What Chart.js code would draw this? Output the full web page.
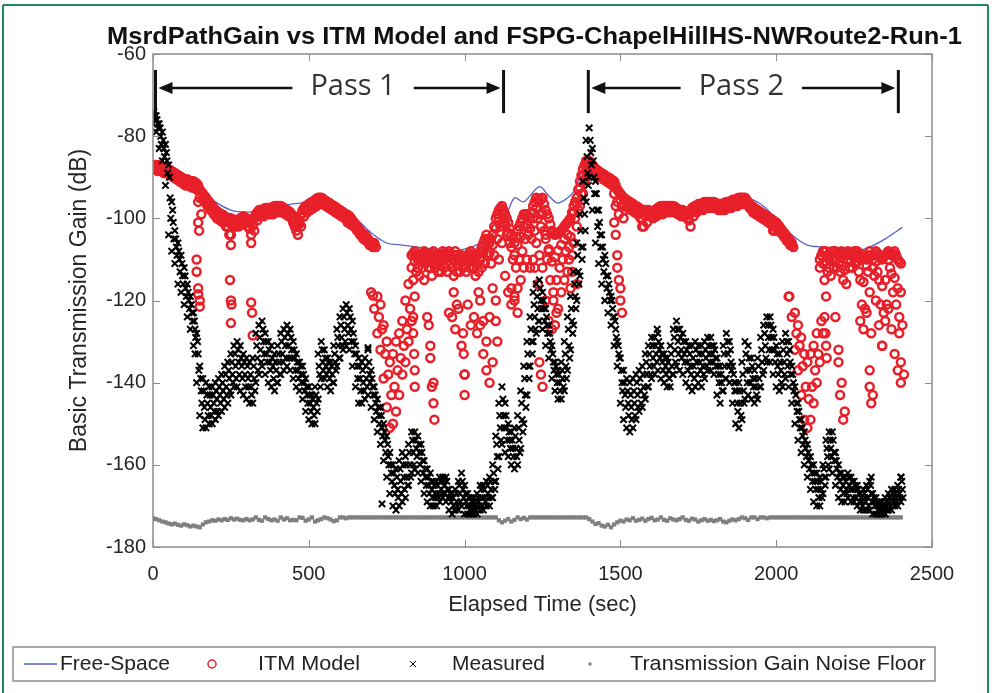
<!DOCTYPE html>
<html>
<head>
<meta charset="utf-8">
<script src="https://cdn.jsdelivr.net/npm/chart.js@4.4.0/dist/chart.umd.min.js"></script>
<style>
html, body { margin: 0; padding: 0; background: #fff; }
canvas { display: block; }
</style>
</head>
<body>
<canvas id="pathGain" width="992" height="693" style="width:992px;height:693px"></canvas>
<script>
// axis ticks
const xTicks = [0, 500, 1000, 1500, 2000, 2500];
const yTicks = [-180, -160, -140, -120, -100, -80, -60];

// free-space path gain (line)
const fsTime = [0,50,100,150,200,250,300,350,400,450,
  500,540,600,650,700,750,800,850,900,950,
  1000,1050,1100,1130,1160,1190,1240,1270,1300,1350,
  1390,1420,1460,1500,1550,1600,1650,1700,1750,1800,
  1850,1900,1950,2000,2050,2100,2150,2200,2250,2300,
  2350,2405];
const fsGain = [-87,-88,-90,-93,-96,-98,-98.5,-98,-97,-96.5,
  -96,-95,-97.5,-100,-103.5,-106,-106.5,-107,-107.5,-108,
  -107.5,-106,-103,-100,-95,-96,-92.3,-94.5,-96.3,-93.5,
  -86,-87,-89.5,-93,-97,-99,-99,-98,-97,-96.5,
  -96.5,-95,-96.5,-100,-104,-106.5,-107,-107.5,-108,-107,
  -105,-102.2];

// samples every 10 s, starting at 0 s
const sampleStep = 10;

// ITM model readings per sample (null = none)
const itmTop = [
  -87,-87,-87,-87.5,-88,-88,-88.5,-89,-89.5,-90,
  -90.5,-90.5,-91,-91,-91.5,-93,-94,-95,-96,-97,
  -98,-98.5,-99,-99.5,-100,-100,-100.5,-100.5,-100,-99.5,
  -100,-101,-100.5,-99,-98,-98,-97.5,-97.5,-97.5,-97,
  -97,-97,-97.5,-98,-98.5,-100,-102,-100.5,-98,-97,
  -96.5,-96,-95.5,-95,-95,-95.5,-96,-96.5,-97,-97.5,
  -98,-98.5,-99,-99.5,-100.5,-101.5,-102.5,-103.5,-104,-105,
  -106,-106,-119,-121,-126,-130,-135,-133,-130,-128,
  -125,-120,-116,-109,-108,-110,-109,-108,-109,-110,
  -108,-109,-110,-108,-109,-108,-110,-108,-110,-109,
  -110,-109,-108,-110,-109,-108,-106,-104,-106,-104,
  -100,-98,-97,-99,-101,-104,-106,-103,-101,-99,
  -99,-100,-97,-95,-96,-95,-98,-100,-103,-104,
  -103.5,-103,-102,-101,-100,-97,-95,-91,-88,-86,
  -86,-87,-88,-88.5,-89,-89.5,-90,-90.5,-91,-93,
  -94,-95,-95.5,-96,-96.5,-97,-97.5,-98,-98,-98,
  -98.5,-98,-97.5,-97,-97,-97,-97,-97,-97.5,-98,
  -98,-98.5,-99,-97.5,-97,-96.5,-96.5,-96,-96,-96,
  -96,-96.5,-96.5,-96.5,-96,-96,-95.5,-95.5,-95,-95,
  -95,-96,-97,-97.5,-98,-98.5,-99,-99.5,-100,-100.5,
  -101,-102,-103,-104,-105,-106,-123,-126,-129,-133,
  -135,-133,-131,-128,-110,-108,-108,-110,-108,-108,
  -109,-108,-109,-108,-109,-108,-108,-110,-109,-110,
  -108,-110,-108,-109,-110,-109,-108,-109,-108,-110,
  -111];
// readings 5 s after each sample along the top of the track
const itmTopHalf = [
  -87,-87,-87.3,-87.7,-88,-88.3,-88.7,-89.2,-89.7,-90.2,
  -90.5,-90.8,-91,-91.2,-92,-93.5,-94.5,-95.5,-96.5,-97.5,
  -98.2,-98.8,-99.2,-99.8,-100,-100.2,-100.5,-100.3,-99.8,-99.8,
  -100.5,-100.8,-99.8,-98.5,-98,-97.8,-97.5,-97.5,-97.2,-97,
  -97,-97.2,-97.8,-98.2,-99,-101,-101.5,-99,-97.5,-96.8,
  -96.2,-95.8,-95.2,-95,-95.2,-95.8,-96.2,-96.8,-97.2,-97.8,
  -98.2,-98.8,-99.2,-100,-101,-102,-103,-103.8,-104.5,-105.5,
  -106,null,null,null,null,null,null,null,null,null,
  null,null,null,-108.5,-109,-109.5,-108.5,-108.5,-109.5,-109,
  -108.5,-109.5,-109,-108.5,-108.5,-109,-109,-109,-109.5,-109.5,
  -109.5,-108.5,-109,-109.5,-108.5,-107,-105,-105,-105,-102,
  -99,-97.5,-98,-100,-102.5,-105,-104.5,-102,-100,-99,
  -99.5,-98.5,-96,-95.5,-95.5,-96.5,-99,-101.5,-103.5,-103.8,
  -103.2,-102.5,-101.5,-100.5,-98.5,-96,-93,-89.5,-87,-86,
  -86.5,-87.5,-88.2,-88.8,-89.2,-89.8,-90.2,-90.8,-92,-93.5,
  -94.5,-95.2,-95.8,-96.2,-96.8,-97.2,-97.8,-98,-98,-98.2,
  -98.2,-97.8,-97.2,-97,-97,-97,-97,-97.2,-97.8,-98,
  -98.2,-98.8,-98.2,-97.2,-96.8,-96.5,-96.2,-96,-96,-96,
  -96.2,-96.5,-96.5,-96.2,-96,-95.8,-95.5,-95.2,-95,-95,
  -95.5,-96.5,-97.2,-97.8,-98.2,-98.8,-99.2,-99.8,-100.2,-100.8,
  -101.5,-102.5,-103.5,-104.5,-105.5,null,null,null,null,null,
  null,null,null,null,-109,-108,-109,-109,-108,-108.5,
  -108.5,-108.5,-108.5,-108.5,-108.5,-108,-109,-109.5,-109.5,-109,
  -109,-109,-108.5,-109.5,-109.5,-108.5,-108.5,-108.5,-109,-110.5,
  null];
const itmInner = [
  -87.5,-88,-88,-88.3,-88.5,-88.8,-89.3,-89.8,-90.3,-90.8,
  -91.3,-91.3,-91.8,-91.8,-93,-95,-95,-96,-97,-98,
  -99,-99.5,-100,-100.8,-102,-101,-101.3,-101.3,-100.8,-100.3,
  -101,-102.5,-101.8,-99.8,-98.8,-98.8,-98.3,-98.3,-98.3,-97.8,
  -97.8,-97.8,-98.3,-98.8,-99.3,-101,-103,-101.3,-98.8,-97.8,
  -97.3,-96.8,-96.3,-95.8,-95.8,-96.3,-96.8,-97.3,-97.8,-98.3,
  -98.8,-99.3,-100,-100.5,-101.3,-102.3,-103.3,-104.3,-104.8,-105.8,
  -106.5,-106.5,null,null,null,null,null,null,null,null,
  null,null,null,-112,-110.5,-112,-110.5,-109.5,-110.5,-112,
  -110,-111,-111.5,-110,-111,-109.5,-112,-110.5,-111.5,-110.5,
  -111.5,-110.5,-110,-112,-111,-110,-108.5,-106.5,-108.5,-106.5,
  -102.5,-100,-99,-101.5,-103.5,-107,-109,-106.5,-104.5,-102,
  -101.5,-102.5,-100,-97.5,-99,-99,-104,-107.5,-110.5,-109.5,
  -107.8,-106.5,-105,-104,-104.5,-98.5,-96.5,-92.5,-89.5,-87,
  -87,-88,-89,-89.3,-89.8,-90.3,-90.8,-91.3,-94,-96,
  -95.5,-96.5,-96.5,-97,-97.5,-98,-98.8,-100,-99.5,-98.8,
  -99.3,-98.8,-98.3,-98,-97.8,-97.8,-97.8,-97.8,-98.3,-98.8,
  -98.8,-99.3,-100.5,-98.5,-97.8,-97.3,-97.3,-96.8,-96.8,-96.8,
  -96.8,-97.3,-97.3,-97.3,-96.8,-96.8,-96.3,-96.3,-95.8,-95.8,
  -95.8,-96.8,-97.8,-98.3,-98.8,-99.3,-99.8,-100.3,-100.8,-101.8,
  -102,-102.8,-103.8,-104.8,-105.8,-106.5,null,null,null,null,
  null,null,null,null,-112,-111,-110.5,-112,-110,-110,
  -111,-111.5,-112.5,-110,-110.5,-109.5,-110.5,-115,-115.5,-111.5,
  -118,-112,-110.5,-115,-116.5,-115,-110,-113.5,-114.5,-117,
  -118];
const itmMid = [
  -88,-88.5,-88.5,-89,-89,-89.5,-90,-90.5,-91,-91.5,
  -92,-92,-92.5,-92.5,-96,-99,-96,-97,-98,-99,
  -100,-100.5,-101,-102,-104,-102,-102,-102,-101.5,-101,
  -102,-104,-103,-100.5,-99.5,-99.5,-99,-99,-99,-98.5,
  -98.5,-98.5,-99,-99.5,-100,-102,-104,-102,-99.5,-98.5,
  -98,-97.5,-97,-96.5,-96.5,-97,-97.5,-98,-98.5,-99,
  -99.5,-100,-101,-101.5,-102,-103,-104,-105,-105.5,-106.5,
  -107,-107,-124,-127,-133,-138,-143,-141,-137,-134,
  -131,-127,-122,-115,-113,-114,-112,-111,-112,-114,
  -112,-113,-113,-112,-113,-111,-114,-113,-113,-112,
  -113,-112,-112,-114,-113,-112,-111,-109,-111,-109,
  -105,-102,-101,-104,-106,-110,-112,-110,-108,-105,
  -104,-105,-103,-100,-102,-103,-110,-115,-118,-115,
  -112,-110,-108,-107,-109,-100,-98,-94,-91,-88,
  -88,-89,-90,-90,-90.5,-91,-91.5,-92,-97,-99,
  -97,-98,-97.5,-98,-98.5,-99,-100,-102,-101,-99.5,
  -100,-99.5,-99,-99,-98.5,-98.5,-98.5,-98.5,-99,-99.5,
  -99.5,-100,-102,-99.5,-98.5,-98,-98,-97.5,-97.5,-97.5,
  -97.5,-98,-98,-98,-97.5,-97.5,-97,-97,-96.5,-96.5,
  -96.5,-97.5,-98.5,-99,-99.5,-100,-100.5,-101,-101.5,-103,
  -103,-103.5,-104.5,-105.5,-106.5,-107,-128,-131,-136,-141,
  -144,-141,-137,-133,-125,-115,-113,-114,-112,-112,
  -113,-115,-116,-112,-112,-111,-113,-121,-122,-113,
  -128,-114,-113,-121,-123,-121,-112,-118,-121,-124,
  -126];
const itmLow = [
  null,null,null,null,null,null,null,null,null,null,
  null,null,null,null,null,null,null,null,null,null,
  null,null,null,null,null,null,null,null,null,null,
  null,null,null,null,null,null,null,null,null,null,
  null,null,null,null,null,null,null,null,null,null,
  null,null,null,null,null,null,null,null,null,null,
  null,null,null,null,null,null,null,null,null,null,
  -118,-122,-128,-132,-139,-146,-151,-150,-147,-143,
  -138,-135,-130,-125,-119,null,null,-115,-124,-131,
  -140,null,null,null,null,-123,-124,-127,-122,-131,
  -138,-121,-126,-124,-128,-120,-125,-130,-124,-135,
  -120,-110,-106,-114,-118,-121,-119,-117,-115,-112,
  -110,-112,-110,-106,-109,-112,-120,-125,-127,-126,
  -122,-118,-115,-113,-117,-106,-102,-97,-94,-90,
  null,null,null,null,null,null,null,null,-101,-112,
  -117,-100,null,null,null,null,null,null,null,null,
  null,null,null,null,null,null,null,null,null,null,
  null,null,null,null,null,null,null,null,null,null,
  null,null,null,null,null,null,null,null,null,null,
  null,null,null,null,null,null,null,null,null,null,
  null,null,null,null,-119,-124,-132,-137,-143,-149,
  -151,-149,-145,-140,-135,-128,-119,null,null,-124,
  -132,-140,-147,null,null,null,null,-125,-127,-123,
  -137,-143,-120,-126,-131,-125,-122,-127,-133,-137,
  -140];
// ITM readings that drop away from the main track [time, gain]
const itmDrops = [
  [140,-110],[140,-113],[145,-117],[145,-118.5],[150,-120],[150,-121.5],[145,-101],[148,-103],
  [245,-101],[250,-104],[250,-106.5],[247,-115],[250,-120],[252,-121],[250,-125.5],
  [310,-102.5],[315,-106],[315,-120.5],[318,-123],[320,-128.5],[706,-118.8],
  [835,-124],[835,-128],[838,-133],[840,-137],[840,-141],
  [885,-126],[890,-134],[895,-141],[900,-145],[903,-149],
  [965,-118],[975,-121],[995,-128],[997,-133],[1000,-138],[1000,-143],
  [1045,-118],[1050,-126],[1060,-133],[1070,-137],[1080,-140],[1090,-117],[1100,-125],[1105,-130],
  [1150,-117],[1160,-120],[1170,-123],
  [1225,-112],[1235,-116],[1240,-135],[1245,-138],[1250,-141],
  [1260,-105],[1270,-108],[1285,-120],[1295,-123],[1335,-110],[1345,-113],[1360,-116],
  [1485,-104],[1490,-109],[1495,-115],[1500,-120],[1505,-123],[1570,-102],[1990,-103],
  [2042,-119],[2155,-124],[2158,-128],[2160,-131],[2162,-134],[2200,-135],[2205,-143],[2215,-149],
  [2300,-141],[2305,-145],[2340,-131],[2395,-128],[2400,-135],[2410,-138]
];

// measured path gain: five readings across the cloud per sample, top to bottom
const measHigh = [
  -74,-75,-77,-79,-82,-87,-96,-103,-106,-109,
  -112,-116,-119,-123,-128,-136,-139,-140,-141,-141,
  -140,-139,-138,-136,-135,-133,-131,-130,-131,-133,
  -134,-135,-134,-128,-126,-125,-128,-130,-131,-133,
  -131,-128,-127,-126,-127,-130,-133,-135,-136,-139,
  -141,-143,-141,-133,-130,-132,-134,-135,-131,-127,
  -124,-122,-121,-122,-125,-131,-134,-135,-134,-132,
  -137,-141,-144,-146,-150,-153,-157,-160,-161,-159,
  -157,-158,-155,-152,-152,-153,-155,-159,-161,-162,
  -164,-164,-163,-163,-163,-166,-167,-166,-164,-162,
  -165,-167,-168,-168,-167,-165,-165,-164,-163,-160,
  -153,-145,-141,-145,-150,-152,-151,-148,-142,-136,
  -130,-124,-118,-116,-115,-118,-122,-126,-131,-135,
  -137,-135,-130,-124,-119,-113,-106,-99,-91,-81,
  -78,-83,-91,-98,-104,-109,-114,-119,-124,-130,
  -134,-137,-139,-140,-139,-138,-137,-136,-133,-131,
  -129,-129,-128,-131,-133,-134,-131,-127,-125,-127,
  -128,-130,-131,-131,-130,-131,-131,-130,-129,-129,
  -131,-134,-136,-131,-128,-130,-136,-140,-140,-135,
  -130,-131,-134,-137,-134,-129,-126,-124,-124,-127,
  -131,-133,-130,-128,-130,-136,-141,-145,-149,-152,
  -155,-158,-160,-162,-163,-160,-154,-152,-152,-157,
  -160,-162,-163,-162,-163,-164,-165,-167,-166,-165,
  -164,-167,-168,-169,-169,-168,-167,-166,-166,-165,
  -163];
const measUpper = [
  -74,-76,-78,-81,-84,-90,-98,-105,-108,-111,
  -114,-118,-121,-125,-130,-139,-142,-143,-143,-143,
  -142,-141,-140,-138,-137,-135,-133,-132,-134,-135,
  -136,-138,-136,-131,-129,-127,-130,-132,-134,-135,
  -133,-130,-129,-128,-129,-132,-135,-136,-138,-141,
  -143,-144,-143,-136,-132,-134,-135,-136,-133,-129,
  -126,-124,-123,-124,-128,-133,-136,-137,-136,-135,
  -139,-143,-146,-148,-152,-155,-160,-162,-163,-161,
  -160,-160,-157,-154,-154,-155,-157,-161,-163,-164,
  -165,-165,-164,-164,-164,-167,-168,-167,-165,-164,
  -167,-168,-169,-169,-168,-166,-166,-165,-164,-162,
  -155,-148,-144,-148,-152,-154,-153,-151,-145,-139,
  -133,-127,-121,-119,-117,-120,-124,-128,-133,-136,
  -138,-137,-133,-127,-122,-116,-109,-103,-95,-85,
  -81,-86,-94,-101,-107,-111,-116,-120,-125,-131,
  -137,-140,-142,-143,-142,-140,-139,-138,-135,-133,
  -131,-131,-130,-133,-134,-135,-133,-129,-127,-129,
  -130,-132,-133,-134,-132,-133,-133,-132,-131,-131,
  -132,-136,-138,-133,-130,-132,-138,-142,-142,-138,
  -133,-134,-136,-139,-136,-132,-128,-126,-126,-129,
  -133,-135,-132,-130,-132,-138,-143,-147,-151,-154,
  -157,-160,-162,-164,-164,-161,-156,-154,-154,-159,
  -162,-163,-164,-163,-164,-165,-166,-168,-167,-166,
  -165,-168,-169,-169,-170,-169,-168,-167,-167,-166,
  -164];
const measMid = [
  -75,-77,-80,-83,-86,-95,-101,-107,-110,-114,
  -117,-120,-123,-127,-133,-142,-146,-145,-146,-145,
  -144,-143,-142,-141,-139,-138,-136,-135,-136,-138,
  -139,-141,-139,-134,-132,-130,-133,-135,-136,-137,
  -135,-133,-131,-131,-132,-134,-137,-138,-140,-143,
  -145,-146,-145,-138,-135,-136,-137,-138,-135,-131,
  -129,-127,-126,-127,-130,-136,-139,-140,-139,-138,
  -141,-145,-148,-151,-154,-158,-162,-165,-166,-164,
  -163,-163,-160,-157,-156,-157,-159,-163,-165,-166,
  -167,-167,-166,-165,-166,-168,-170,-169,-167,-166,
  -169,-170,-170,-170,-169,-168,-168,-167,-166,-164,
  -158,-151,-148,-151,-154,-156,-156,-154,-149,-143,
  -136,-130,-124,-122,-120,-122,-126,-130,-135,-138,
  -140,-139,-136,-131,-125,-119,-113,-107,-99,-89,
  -84,-90,-98,-104,-110,-114,-118,-122,-127,-133,
  -140,-143,-145,-146,-145,-143,-142,-141,-138,-136,
  -134,-133,-132,-135,-136,-137,-136,-132,-130,-132,
  -133,-135,-136,-136,-135,-135,-136,-134,-133,-133,
  -134,-138,-140,-136,-133,-135,-140,-145,-145,-142,
  -137,-137,-139,-141,-139,-135,-131,-129,-129,-132,
  -136,-137,-135,-133,-135,-140,-145,-149,-153,-156,
  -159,-162,-164,-166,-166,-163,-158,-156,-157,-161,
  -164,-165,-166,-165,-166,-166,-167,-169,-168,-168,
  -167,-169,-170,-170,-170,-170,-169,-168,-168,-167,
  -166];
const measLower = [
  -76,-78,-82,-85,-89,-100,-105,-109,-113,-116,
  -119,-122,-125,-129,-137,-145,-149,-148,-148,-147,
  -147,-145,-144,-143,-142,-140,-139,-138,-139,-141,
  -141,-143,-142,-137,-135,-133,-135,-137,-139,-140,
  -138,-135,-134,-134,-134,-137,-139,-140,-142,-145,
  -147,-148,-147,-141,-137,-138,-139,-140,-137,-134,
  -131,-130,-128,-130,-133,-139,-142,-142,-141,-140,
  -143,-147,-150,-153,-157,-160,-164,-167,-168,-167,
  -166,-165,-163,-160,-158,-160,-162,-165,-167,-168,
  -168,-168,-167,-167,-168,-169,-171,-170,-169,-168,
  -170,-171,-171,-171,-170,-170,-169,-168,-168,-166,
  -161,-154,-151,-154,-156,-158,-158,-157,-152,-146,
  -139,-133,-127,-125,-122,-125,-128,-132,-137,-140,
  -142,-141,-139,-134,-128,-122,-116,-110,-103,-92,
  -87,-94,-102,-107,-113,-117,-120,-124,-129,-134,
  -142,-146,-148,-149,-148,-146,-145,-143,-141,-138,
  -136,-135,-134,-137,-138,-139,-138,-135,-133,-134,
  -135,-137,-138,-139,-138,-137,-138,-136,-135,-135,
  -136,-140,-142,-139,-136,-137,-142,-147,-148,-145,
  -140,-140,-141,-143,-141,-138,-134,-132,-132,-135,
  -138,-140,-138,-136,-138,-142,-147,-151,-155,-158,
  -161,-164,-166,-168,-168,-165,-160,-158,-159,-163,
  -166,-167,-167,-166,-168,-168,-169,-170,-169,-170,
  -169,-170,-171,-171,-171,-171,-170,-169,-169,-168,
  -168];
const measLow = [
  -77,-79,-83,-86,-92,-104,-108,-111,-116,-118,
  -121,-124,-127,-131,-140,-148,-151,-151,-150,-150,
  -149,-148,-147,-146,-145,-143,-141,-141,-142,-143,
  -144,-145,-145,-140,-138,-136,-138,-140,-141,-142,
  -140,-138,-137,-136,-137,-139,-141,-142,-144,-147,
  -149,-150,-150,-144,-139,-139,-141,-142,-140,-136,
  -134,-132,-131,-132,-136,-141,-145,-145,-144,-143,
  -146,-149,-152,-155,-159,-163,-167,-170,-171,-170,
  -169,-168,-165,-162,-161,-162,-164,-167,-169,-170,
  -170,-170,-169,-168,-169,-171,-172,-171,-171,-170,
  -172,-172,-172,-172,-172,-171,-171,-170,-170,-168,
  -164,-158,-155,-157,-158,-160,-161,-160,-156,-150,
  -143,-136,-130,-128,-125,-127,-131,-134,-139,-142,
  -144,-144,-142,-137,-132,-126,-120,-114,-107,-96,
  -90,-98,-106,-111,-116,-120,-123,-126,-131,-136,
  -145,-149,-151,-152,-151,-149,-147,-146,-144,-141,
  -139,-138,-137,-139,-140,-141,-141,-138,-136,-137,
  -138,-140,-141,-142,-141,-140,-141,-139,-137,-137,
  -138,-143,-145,-142,-139,-140,-145,-150,-151,-149,
  -144,-143,-144,-145,-144,-141,-137,-135,-135,-138,
  -141,-142,-141,-139,-141,-145,-150,-154,-157,-160,
  -163,-166,-169,-170,-170,-167,-163,-161,-162,-165,
  -168,-169,-169,-168,-169,-169,-170,-171,-171,-171,
  -171,-172,-172,-172,-172,-172,-171,-171,-170,-170,
  -169];
const measOutliers = [[135,-133],[690,-131.5],[735,-169.5],[1618,-127],[2305,-163],[2401,-163]];

// transmission gain noise floor per sample
const noiseFloor = [
  -173,-173.2,-173.5,-173.8,-174,-174.3,-174.5,-174.3,-174.6,-174.8,
  -174.5,-174.7,-175,-174.8,-175,-175.2,-174.5,-174,-173.8,-173.5,
  -173.6,-173.3,-173.5,-173.2,-173.4,-173,-173.3,-173.1,-173.4,-173.5,
  -173.2,-173.5,-173.3,-172.8,-173.4,-173.6,-172.8,-173.2,-173.5,-173.3,
  -173.6,-172.8,-173.3,-173,-173.5,-173.4,-173.5,-172.8,-172.9,-173.6,
  -173.3,-172.8,-173.8,-173.5,-173.2,-172.8,-173,-173.3,-173.7,-173.5,
  -172.8,-172.8,-173,-172.8,-172.8,-172.8,-172.8,-172.8,-172.8,-172.8,
  -172.8,-172.8,-172.8,-172.8,-172.8,-172.8,-172.8,-172.8,-172.8,-172.8,
  -172.8,-172.8,-172.8,-172.8,-172.8,-172.8,-172.8,-172.8,-172.8,-172.8,
  -172.8,-172.8,-172.8,-172.8,-172.8,-172.8,-172.8,-172.8,-172.8,-172.8,
  -172.8,-172.8,-172.8,-172.8,-172.8,-172.8,-172.8,-172.8,-172.8,-172.8,
  -172.8,-173.5,-174,-173.6,-173.2,-173.8,-173.4,-172.8,-173.2,-172.9,
  -173.3,-172.8,-172.8,-172.8,-172.8,-172.8,-172.8,-172.8,-172.8,-172.8,
  -172.8,-172.8,-172.8,-172.8,-172.8,-172.8,-172.8,-172.8,-172.8,-172.8,
  -173.2,-173.8,-174.4,-174.2,-174.8,-175,-174.6,-175.2,-174.5,-174,
  -173.6,-173.8,-173.3,-173.5,-173,-173.6,-173.4,-173.1,-173.6,-173.2,
  -172.9,-173.5,-173.3,-172.8,-173.4,-173.6,-173,-173.3,-173.5,-173.2,
  -172.8,-173.4,-173.6,-173.1,-173.3,-173.8,-173.5,-173.2,-173.6,-173.4,
  -173.7,-173.5,-173.2,-173.8,-174,-173.6,-173.3,-173.5,-173.2,-172.8,
  -173,-173.4,-172.8,-172.8,-173.2,-172.8,-172.8,-173,-172.8,-172.8,
  -172.8,-172.8,-172.8,-172.8,-172.8,-172.8,-172.8,-172.8,-172.8,-172.8,
  -172.8,-172.8,-172.8,-172.8,-172.8,-172.8,-172.8,-172.8,-172.8,-172.8,
  -172.8,-172.8,-172.8,-172.8,-172.8,-172.8,-172.8,-172.8,-172.8,-172.8,
  -172.8,-172.8,-172.8,-172.8,-172.8,-172.8,-172.8,-172.8,-172.8,-172.8,
  -172.8];

// pass annotations
const passNames = ['Pass 1', 'Pass 2'];
const passStart = [8, 1397];
const passEnd = [1125, 2392];
const passLabelAt = [642, 1888];

const legendNames = ['Free-Space', 'ITM Model', 'Measured', 'Transmission Gain Noise Floor'];

const FONT = '"Liberation Sans", Arial, sans-serif';
const RED = '#e8202a';
const BLUE = '#5563c8';

function toPoints(vals, offset) {
  const pts = [];
  vals.forEach((v, i) => {
    if (v !== null) pts.push({ x: i * sampleStep + offset, y: v });
  });
  return pts;
}
function pairs(list) {
  return list.map(p => ({ x: p[0], y: p[1] }));
}

const fsPoints = fsTime.map((t, i) => ({ x: t, y: fsGain[i] }));
const itmPoints = [].concat(
  toPoints(itmTop, 0), toPoints(itmTopHalf, 5), toPoints(itmInner, 0),
  toPoints(itmMid, 5), toPoints(itmLow, 0), pairs(itmDrops));
const measPoints = [].concat(
  toPoints(measHigh, 0), toPoints(measUpper, 3), toPoints(measMid, 5),
  toPoints(measLower, 7), toPoints(measLow, 0), pairs(measOutliers));
const noisePoints = toPoints(noiseFloor, 0);

function line(ctx, x1, y1, x2, y2) {
  ctx.beginPath();
  ctx.moveTo(x1, y1);
  ctx.lineTo(x2, y2);
  ctx.stroke();
}

function arrow(ctx, from, to, y) {
  const dir = to > from ? 1 : -1;
  line(ctx, from, y, to - dir * 10, y);
  ctx.beginPath();
  ctx.moveTo(to, y);
  ctx.lineTo(to - dir * 14, y - 6);
  ctx.lineTo(to - dir * 14, y + 6);
  ctx.closePath();
  ctx.fill();
}

function fitText(ctx, text, x, y, width) {
  const w = ctx.measureText(text).width;
  ctx.save();
  ctx.translate(x, y);
  ctx.scale(width / w, 1);
  ctx.fillText(text, 0, 0);
  ctx.restore();
}

const decor = {
  id: 'decor',
  beforeDraw(chart) {
    const ctx = chart.ctx;
    ctx.save();
    ctx.fillStyle = '#fff';
    ctx.fillRect(0, 0, chart.width, chart.height);
    ctx.restore();
  },
  afterDraw(chart) {
    const { ctx, chartArea: a } = chart;
    const xs = chart.scales.x, ys = chart.scales.y;
    ctx.save();

    // axes box with inward ticks
    ctx.strokeStyle = '#8c8c8c';
    ctx.lineWidth = 1.5;
    ctx.strokeRect(a.left, a.top, a.right - a.left, a.bottom - a.top);
    ctx.lineWidth = 1;
    xTicks.forEach(v => {
      const px = Math.round(xs.getPixelForValue(v)) + 0.5;
      line(ctx, px, a.bottom, px, a.bottom - 7);
      line(ctx, px, a.top, px, a.top + 7);
    });
    yTicks.forEach(v => {
      const py = Math.round(ys.getPixelForValue(v)) + 0.5;
      line(ctx, a.left, py, a.left + 7, py);
      line(ctx, a.right, py, a.right - 7, py);
    });

    // pass markers
    ctx.strokeStyle = '#111';
    ctx.fillStyle = '#111';
    const yArrow = ys.getPixelForValue(-68.3);
    const yBarTop = ys.getPixelForValue(-63.9);
    const yBarBot = ys.getPixelForValue(-74.4);
    ctx.font = '29px "Open Sans", "Noto Sans", sans-serif';
    ctx.textAlign = 'center';
    ctx.textBaseline = 'middle';
    passNames.forEach((name, i) => {
      const x0 = xs.getPixelForValue(passStart[i]);
      const x1 = xs.getPixelForValue(passEnd[i]);
      const xm = xs.getPixelForValue(passLabelAt[i]);
      ctx.lineWidth = 3;
      line(ctx, x0, yBarTop, x0, yBarBot);
      line(ctx, x1, yBarTop, x1, yBarBot);
      ctx.lineWidth = 2.5;
      const half = ctx.measureText(name).width / 2 + 18;
      arrow(ctx, xm - half, x0 + 3, yArrow);
      arrow(ctx, xm + half, x1 - 3, yArrow);
      ctx.fillStyle = '#333';
      ctx.fillText(name, xm, yArrow - 1);
      ctx.fillStyle = '#111';
    });

    // title
    ctx.fillStyle = '#111';
    ctx.font = 'bold 24px ' + FONT;
    ctx.textAlign = 'left';
    ctx.textBaseline = 'middle';
    fitText(ctx, 'MsrdPathGain vs ITM Model and FSPG-ChapelHillHS-NWRoute2-Run-1', 107, 37, 855);

    // legend
    const ly = 664;
    ctx.strokeStyle = '#8c8c8c';
    ctx.lineWidth = 1.5;
    ctx.strokeRect(13, 647, 922, 34);
    ctx.strokeStyle = BLUE;
    ctx.lineWidth = 1.5;
    line(ctx, 24, ly, 57, ly);
    ctx.strokeStyle = RED;
    ctx.beginPath();
    ctx.arc(212, ly, 4, 0, Math.PI * 2);
    ctx.stroke();
    ctx.strokeStyle = '#000';
    ctx.lineWidth = 1;
    line(ctx, 410, ly - 3, 416, ly + 3);
    line(ctx, 410, ly + 3, 416, ly - 3);
    ctx.fillStyle = '#808080';
    ctx.fillRect(588.5, ly - 1.5, 3, 3);
    ctx.fillStyle = '#222';
    ctx.font = '21px ' + FONT;
    ctx.textBaseline = 'middle';
    fitText(ctx, legendNames[0], 60, ly, 110);
    fitText(ctx, legendNames[1], 258, ly, 102);
    fitText(ctx, legendNames[2], 452, ly, 93);
    fitText(ctx, legendNames[3], 630, ly, 296);

    // outer green frame
    ctx.strokeStyle = '#1d8a5c';
    ctx.lineWidth = 2;
    line(ctx, 3, 5, 3, 693);
    line(ctx, 3, 5, 988, 5);
    line(ctx, 988, 5, 988, 693);
    ctx.restore();
  }
};

const ctx = document.getElementById('pathGain').getContext('2d');
const chart = new Chart(ctx, {
  type: 'scatter',
  data: {
    datasets: [
      {
        label: legendNames[0],
        type: 'line',
        data: fsPoints,
        borderColor: BLUE,
        borderWidth: 1.3,
        pointRadius: 0,
        tension: 0.3,
        fill: false,
        order: 4
      },
      {
        label: legendNames[3],
        data: noisePoints,
        pointStyle: 'rect',
        pointRadius: 3,
        backgroundColor: '#7f7f7f',
        borderColor: '#7f7f7f',
        borderWidth: 0,
        order: 3
      },
      {
        label: legendNames[1],
        data: itmPoints,
        pointStyle: 'circle',
        pointRadius: 4,
        borderColor: RED,
        backgroundColor: 'rgba(0,0,0,0)',
        borderWidth: 2.5,
        order: 2
      },
      {
        label: legendNames[2],
        data: measPoints,
        pointStyle: 'crossRot',
        pointRadius: 4.5,
        borderColor: '#000',
        borderWidth: 2,
        order: 1
      }
    ]
  },
  options: {
    responsive: false,
    animation: false,
    devicePixelRatio: 1,
    layout: { padding: { top: 54, right: 60, left: 0, bottom: 0 } },
    plugins: {
      legend: { display: false },
      tooltip: { enabled: false }
    },
    scales: {
      x: {
        type: 'linear',
        min: 0,
        max: 2500,
        grid: { display: false, drawTicks: false },
        border: { display: false },
        ticks: {
          stepSize: 500,
          padding: 15,
          color: '#262626',
          font: { family: FONT, size: 20 },
          callback: v => String(v)
        },
        title: {
          display: true,
          text: 'Elapsed Time (sec)',
          color: '#262626',
          font: { family: FONT, size: 22 },
          padding: { top: 0, bottom: 75 }
        },
        afterFit: s => { s.height = 146; }
      },
      y: {
        min: -180,
        max: -60,
        grid: { display: false, drawTicks: false },
        border: { display: false },
        ticks: {
          stepSize: 20,
          padding: 7,
          color: '#262626',
          font: { family: FONT, size: 20 },
          callback: v => String(v)
        },
        title: {
          display: true,
          text: 'Basic Transmission Gain (dB)',
          color: '#262626',
          font: { family: FONT, size: 23 },
          padding: { top: 66, bottom: 0 }
        },
        afterFit: s => { s.width = 153; }
      }
    }
  },
  plugins: [decor]
});
</script>
</body>
</html>
